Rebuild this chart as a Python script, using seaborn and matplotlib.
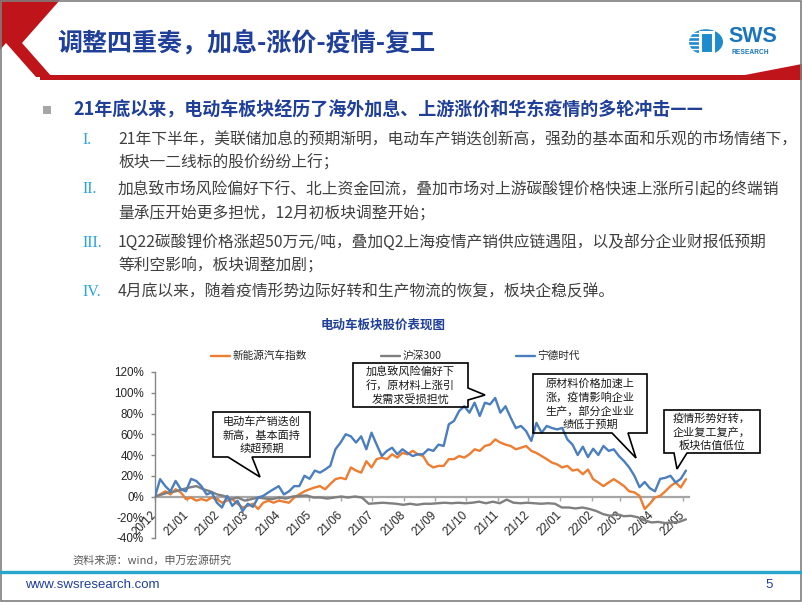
import numpy as np
import pandas as pd
import matplotlib
matplotlib.use("Agg")
import matplotlib.pyplot as plt
import seaborn as sns
from matplotlib.patches import Polygon, Rectangle, Circle
from matplotlib.lines import Line2D

# ---------------- data ----------------
series_names = ["新能源汽车指数", "沪深300", "宁德时代"]
series_colors = ["#ED7D31", "#7F7F7F", "#4A7EBE"]
start_date = "2020-12-01"
end_date = "2022-05-04"
month_ticks = pd.date_range("2020-12-01", "2022-05-01", freq="MS")
month_labels = ["20/12", "21/01", "21/02", "21/03", "21/04", "21/05", "21/06", "21/07",
                "21/08", "21/09", "21/10", "21/11", "21/12", "22/01", "22/02", "22/03",
                "22/04", "22/05"]
y_ticks = [-40, -20, 0, 20, 40, 60, 80, 100, 120]
y_tick_labels = ["-40%", "-20%", "0%", "20%", "40%", "60%", "80%", "100%", "120%"]

nev_index = [0, 2, 5, 2, 7, 4, -2.5, -1, -4, -2.5,
             -4, -1, -2.5, -6, -4, -2.5, -7, -10.6, -9, -7,
             -12, -6, -4, -6, -4, -5, -6, -1, 2, 5,
             7, 8.7, 10, 7, 12, 16.7, 18, 16.7, 28, 25,
             23, 34, 28, 36, 37.5, 36, 40.7, 37.5, 42, 40.7,
             44, 40.7, 39, 31, 28, 29.5, 29.5, 36, 36, 39,
             37.5, 40.7, 45.5, 44, 48.7, 50, 55, 52, 50, 48.7,
             45.5, 47, 48.7, 44, 42, 39, 36, 32.7, 31, 28,
             29.5, 25, 26, 21.5, 26, 16.7, 13.5, 10, 13.5, 16.7,
             13.5, 10, 5, 4, 0.6, -12, -7, -1, 0.6, 5,
             10, 13.5, 8.7, 16.7]

hs300 = [0, 2, 4, 5, 7, 8.7, 10, 7, 5, 2,
         0.6, -2.5, -1, -4, -2.5, -1, -2, -2.5, -1, -2,
         0, 0.6, 1, -1, -1, -2, -1, 0, -1, 0, -1,
         -7, -6.5,
         -6, -6.5, -7, -8, -7, -8, -7, -7, -6.5, -6,
         -6.5, -6, -6.5, -6, -5, -6.5, -5, -6.5, -3, -6,
         -6.5, -6, -6.5, -7, -6.5, -7, -10.6, -10.6, -11.5, -10.6,
         -12, -14, -17, -18.6, -17, -19, -18.6, -20, -23, -25,
         -24.5, -25.6, -25, -24.5, -22]

catl = [0, 16.7, 10, 5, 15, 7, 5,
        17, 15, 10, 2, 4, -6, -10.6, 0.6, -9, -4, -14, -7, -10, -1, 0.6, 4, 7, 10, 2, 5,
        10, 10, 20, 17, 25, 23, 26, 29.5, 45.5, 52, 60, 58, 52, 58, 45.5, 61.5, 50, 39,
        44, 47, 40.7, 45.5, 42, 39, 40.7, 40.7, 45.5, 44, 50, 48.7, 69.6, 72.8, 82.4, 87,
        80.8, 90.4, 77.6, 90.4, 88.8, 95, 80.8, 87, 76, 66, 68, 63, 53.5, 71, 61.5, 68,
        66, 64.7, 66,
        55, 50, 40, 48, 38, 46, 40, 48.7, 44, 45.5, 39, 34, 28, 20, 9, 14, 8, 5, 17, 18,
        20, 13.5, 17, 25]

title_text = "调整四重奏，加息-涨价-疫情-复工"
heading_text = "21年底以来，电动车板块经历了海外加息、上游涨价和华东疫情的多轮冲击——"
bullet_numerals = ["I.", "II.", "III.", "IV."]
bullet_lines = [
    ["21年下半年，美联储加息的预期渐明，电动车产销迭创新高，强劲的基本面和乐观的市场情绪下，",
     "板块一二线标的股价纷纷上行；"],
    ["加息致市场风险偏好下行、北上资金回流，叠加市场对上游碳酸锂价格快速上涨所引起的终端销",
     "量承压开始更多担忧，12月初板块调整开始；"],
    ["1Q22碳酸锂价格涨超50万元/吨，叠加Q2上海疫情产销供应链遇阻，以及部分企业财报低预期",
     "等利空影响，板块调整加剧；"],
    ["4月底以来，随着疫情形势边际好转和生产物流的恢复，板块企稳反弹。"],
]
chart_title = "电动车板块股价表现图"
callout_texts = ["电动车产销迭创\n新高，基本面持\n续超预期",
                 "加息致风险偏好下\n行，原材料上涨引\n发需求受损担忧",
                 "原材料价格加速上\n涨，疫情影响企业\n生产，部分企业业\n绩低于预期",
                 "疫情形势好转，\n企业复工复产，\n板块估值低位"]
source_text = "资料来源：wind，申万宏源研究"
footer_url = "www.swsresearch.com"
page_no = "5"

# ---------------- style ----------------
sns.set_theme(style="white")
plt.rcParams["font.family"] = ["Noto Sans CJK SC", "DejaVu Sans"]
plt.rcParams["axes.unicode_minus"] = False

W, H = 802, 602
fig = plt.figure(figsize=(W / 100, H / 100), dpi=100)
fig.patch.set_facecolor("white")


def fx(x):
    return x / W


def fy(y):
    return 1 - y / H


def poly(points, **kw):
    p = Polygon([(fx(a), fy(b)) for a, b in points], closed=True,
                transform=fig.transFigure, **kw)
    fig.add_artist(p)
    return p


RED = "#C0141B"
NAVY = "#1F3F99"

# header decoration
poly([(0, 0), (60, 0), (22, 43), (52, 77), (36, 77), (6, 43), (0, 50)], facecolor=RED, edgecolor="none")
poly([(40, 75), (745, 75), (802, 64), (802, 80), (40, 80)], facecolor=RED, edgecolor="none")
fig.text(fx(57), fy(44), title_text, fontsize=18, weight="bold", color=NAVY,
         va="center", ha="left")

# logo
fig.add_artist(Circle((fx(706), fy(42)), 17 / W, transform=fig.transFigure,
                      facecolor="#1E8BCD", edgecolor="none"))
for yy in range(29, 57, 4):
    fig.add_artist(Line2D([fx(689), fx(700)], [fy(yy), fy(yy)], color="white", lw=1.0,
                          transform=fig.transFigure))
fig.add_artist(Rectangle((fx(700), fy(53)), 13 / W, 21 / H, transform=fig.transFigure,
                         facecolor="none", edgecolor="white", lw=2.2))
fig.text(fx(728), fy(37), "SWS", fontsize=15.5, weight="bold", color="#1C75BC",
         family="Liberation Sans", va="center", ha="left")
fig.text(fx(731), fy(53), "RESEARCH", fontsize=4.8, weight="bold", color="#1C75BC",
         family="Liberation Sans", va="center", ha="left")

# bullets
fig.add_artist(Rectangle((fx(43), fy(114)), 8 / W, 8 / H, transform=fig.transFigure,
                         facecolor="#A6A6A6", edgecolor="none"))
fig.text(fx(73), fy(110), heading_text, fontsize=13, weight="bold", color=NAVY,
         va="center", ha="left")
line_ys = [[140, 163], [189, 213], [243, 266], [292]]
for num, lines, ys in zip(bullet_numerals, bullet_lines, line_ys):
    fig.text(fx(82), fy(ys[0]), num, fontsize=11.5, color="#29A3DA",
             family="Liberation Serif", va="center", ha="left")
    for ln, yy in zip(lines, ys):
        fig.text(fx(118), fy(yy), ln, fontsize=11.35, color="#404040",
                 va="center", ha="left")

# chart title
fig.text(fx(383), fy(325), chart_title, fontsize=9, weight="bold", color=NAVY,
         va="center", ha="center")

# ---------------- chart ----------------
ax = fig.add_axes([fx(155), fy(538), (689 - 155) / W, (538 - 372) / H])
frames = []
for name, vals in zip(series_names, [nev_index, hs300, catl]):
    dates = pd.date_range(start_date, end_date, periods=len(vals))
    frames.append(pd.DataFrame({"date": dates, "value": vals, "series": name}))
df = pd.concat(frames, ignore_index=True)

sns.lineplot(data=df, x="date", y="value", hue="series", hue_order=series_names,
             palette=series_colors, linewidth=1.7, estimator=None, sort=False,
             legend=False, ax=ax, zorder=3)

ax.set_xlim(pd.Timestamp("2020-12-01"), pd.Timestamp("2022-05-07"))
ax.set_ylim(-40, 120)
ax.set_xlabel("")
ax.set_ylabel("")
ax.set_facecolor("none")
for s in ["top", "right"]:
    ax.spines[s].set_visible(False)
ax.spines["left"].set_color("#868686")
ax.spines["left"].set_linewidth(1.0)
ax.spines["bottom"].set_position(("data", 0))
ax.spines["bottom"].set_color("#A6A6A6")
ax.spines["bottom"].set_linewidth(1.6)
ax.spines["bottom"].set_zorder(2)

ax.set_yticks(y_ticks)
ax.set_yticklabels(y_tick_labels, family="Liberation Sans", fontsize=8.4, color="#262626")
ax.set_xticks(month_ticks)
ax.set_xticklabels(month_labels, family="Liberation Sans", fontsize=8.4, color="#262626",
                   rotation=45, ha="right", rotation_mode="anchor", va="center")
ax.tick_params(axis="y", direction="out", length=3, width=1, color="#868686", pad=5, left=True)
ax.tick_params(axis="x", direction="out", length=3, width=1, color="#A6A6A6", pad=9, bottom=True)
ax.grid(False)

# legend
handles = [Line2D([0], [0], color=c, lw=1.7) for c in series_colors]
fig.legend(handles, series_names, loc="center left",
           bbox_to_anchor=(fx(211), fy(356)), bbox_transform=fig.transFigure,
           ncol=3, frameon=False, handlelength=1.8, handletextpad=0.2,
           columnspacing=6.95, borderpad=0, borderaxespad=0,
           prop={"family": ["Noto Sans CJK SC"], "size": 7.7})


# callouts
def callout_bottom(x0, y0, x1, y1, bl, br, tip, text):
    pts = [(x0, y0), (x1, y0), (x1, y1), (br, y1), tip, (bl, y1), (x0, y1)]
    poly(pts, facecolor="none", edgecolor="black", lw=1.2, zorder=5)
    fig.text(fx((x0 + x1) / 2), fy((y0 + y1) / 2 + 0.5), text, fontsize=8.0, color="#1a1a1a",
             ha="center", va="center", linespacing=1.32, zorder=6)


def callout_right(x0, y0, x1, y1, bt, bb, tip, text):
    pts = [(x0, y0), (x1, y0), (x1, bt), tip, (x1, bb), (x1, y1), (x0, y1)]
    poly(pts, facecolor="none", edgecolor="black", lw=1.2, zorder=5)
    fig.text(fx((x0 + x1) / 2), fy((y0 + y1) / 2 + 0.5), text, fontsize=8.0, color="#1a1a1a",
             ha="center", va="center", linespacing=1.32, zorder=6)


callout_bottom(213, 412, 310, 457, 228, 252, (260, 477), callout_texts[0])
callout_right(353, 363, 468, 407, 388, 400, (485, 395), callout_texts[1])
callout_bottom(533, 374, 647, 433, 612, 628, (636, 458), callout_texts[2])
callout_bottom(664, 410, 760, 453, 674, 687, (677, 469), callout_texts[3])

# source + footer
fig.text(fx(72), fy(560), source_text, fontsize=8, color="#595959", va="center", ha="left")
fig.add_artist(Line2D([0, 1], [fy(572), fy(572)], color="#2BA6CB", lw=2.4,
                      transform=fig.transFigure))
fig.text(fx(25), fy(585), footer_url, fontsize=9.5, color=NAVY, family="Liberation Sans",
         va="center", ha="left")
fig.text(fx(765), fy(585), page_no, fontsize=9.5, color=NAVY, family="Liberation Sans",
         va="center", ha="left")
fig.add_artist(Rectangle((0.0008, 0.001), 0.998, 0.997, transform=fig.transFigure,
                         facecolor="none", edgecolor="#7F7F7F", lw=1.2))

fig.savefig("out.png", dpi=100, facecolor="white")
